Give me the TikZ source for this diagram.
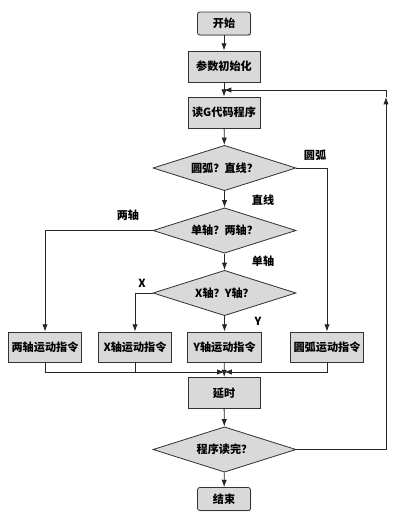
\documentclass[tikz,border=0pt]{standalone}
\usepackage{fontspec}
\setmainfont{Noto Sans CJK SC}
\usetikzlibrary{shapes.geometric,arrows.meta,shadows}
\tikzset{
	flow/.style={line width=0.7pt, draw=black!85},
	arr/.style={flow, -{Latex[length=2.2mm,width=1.6mm]}},
	txt/.style={font=\fontsize{9.5}{11}\selectfont\bfseries},
	box/.style={txt, draw=black!80, fill=gray!30, line width=0.7pt, inner sep=1pt,
		minimum width=2.16cm, minimum height=0.93cm,
		drop shadow={shadow xshift=0.6pt, shadow yshift=-0.6pt, fill=black!60}},
	cmdbox/.style={box, minimum width=2.2cm, minimum height=0.9cm},
	termbox/.style={box, rounded corners=2pt, minimum width=1.59cm, minimum height=0.69cm},
	decide/.style={txt, diamond, aspect=3.2, draw=black!80, fill=gray!30, line width=0.7pt,
		inner sep=0pt, minimum width=4.29cm, minimum height=1.36cm},
	lbl/.style={txt}
}
\begin{document}
\begin{tikzpicture}[x=0.03cm,y=-0.03cm]
	\useasboundingbox (0,0) rectangle (400,523);
	% main column
	\node[termbox] (start) at (224,23.5) {开始};
	\node[box] (init) at (224,66.5) {参数初始化};
	\node[box] (read) at (224,112.5) {读G代码程序};
	\node[decide] (arcq) at (224.5,168) {圆弧？直线？};
	\node[decide] (axisq) at (224.5,230.5) {单轴？两轴？};
	\node[decide] (xyq) at (224.5,293) {X轴？Y轴？};
	% command boxes
	\node[cmdbox] (both) at (45,347) {两轴运动指令};
	\node[cmdbox] (xcmd) at (135,347) {X轴运动指令};
	\node[cmdbox] (ycmd) at (224.5,347) {Y轴运动指令};
	\node[cmdbox] (arccmd) at (327,347) {圆弧运动指令};
	\node[box] (delay) at (224,393) {延时};
	\node[decide] (doneq) at (224.5,449.5) {程序读完？};
	\node[termbox] (stop) at (224,499) {结束};
	% helper points
	\coordinate (join) at (224,90);
	\coordinate (loopup) at (386,97);
	\coordinate (mergeL) at (214,372);
	\coordinate (mergeR) at (235,372);
	\coordinate (merge) at (224.5,372);
	% connectors
	\draw[arr] (start) -- (init);
	\draw[arr] (init) -- (read);
	\draw[arr] (read) -- (arcq);
	\draw[arr] (arcq) -- (axisq);
	\draw[arr] (axisq) -- (xyq);
	\draw[arr] (xyq) -- (ycmd);
	\draw[arr] (arcq.east) -| (arccmd.north);
	\draw[arr] (axisq.west) -| (both.north);
	\draw[arr] (xyq.west) -| (xcmd.north);
	\draw[flow] (both.south) |- (mergeL);
	\draw[flow] (xcmd.south) -- (xcmd.south |- mergeL);
	\draw[arr] (mergeL) -- (merge);
	\draw[flow] (arccmd.south) |- (mergeR);
	\draw[arr] (mergeR) -- (merge);
	\draw[arr] (ycmd) -- (delay);
	\draw[arr] (delay) -- (doneq);
	\draw[arr] (doneq) -- (stop);
	\draw[arr] (doneq.east) -| (loopup);
	\draw[arr] (loopup) |- (join);
	% branch labels
	\node[lbl] (lArc) at (315,155) {圆弧};
	\node[lbl] (lLine) at (263,200) {直线};
	\node[lbl] (lBoth) at (128,215) {两轴};
	\node[lbl] (lOne) at (263,261) {单轴};
	\node[lbl] (lX) at (142,283) {X};
	\node[lbl] (lY) at (258,321) {Y};
\end{tikzpicture}
\end{document}
